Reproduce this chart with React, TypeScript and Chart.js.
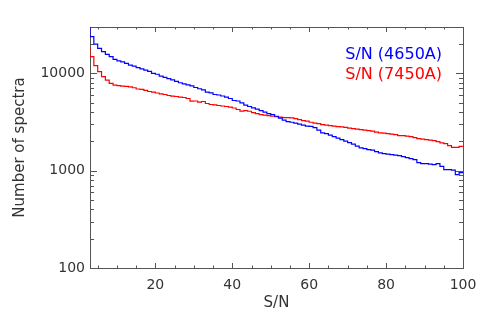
import React, { useEffect, useRef } from 'react';
import { Chart, registerables } from 'chart.js';

Chart.register(...registerables);

// Histogram bins (start of each 1-unit S/N bin)
const binStarts = [
  2, 3, 4, 5, 6, 7, 8, 9, 10, 11, 12, 13, 14, 15, 16, 17, 18, 19, 20, 21,
  22, 23, 24, 25, 26, 27, 28, 29, 30, 31, 32, 33, 34, 35, 36, 37, 38, 39, 40, 41,
  42, 43, 44, 45, 46, 47, 48, 49, 50, 51, 52, 53, 54, 55, 56, 57, 58, 59, 60, 61,
  62, 63, 64, 65, 66, 67, 68, 69, 70, 71, 72, 73, 74, 75, 76, 77, 78, 79, 80, 81,
  82, 83, 84, 85, 86, 87, 88, 89, 90, 91, 92, 93, 94, 95, 96, 97, 98, 99,
];
const binWidth = 1;

const blueCounts = [
  32000, 23900, 20050, 18100, 16740, 15700, 14870, 13940, 13450, 13140,
  12680, 12180, 11890, 11450, 11130, 10810, 10480, 10000, 9810, 9380,
  9100, 8820, 8570, 8270, 8020, 7800, 7610, 7430, 7170, 6960,
  6760, 6420, 6300, 6075, 6000, 5860, 5700, 5525, 5270, 5205,
  4990, 4713, 4570, 4430, 4305, 4155, 4010, 3870, 3780, 3630,
  3476, 3316, 3200, 3147, 3088, 3016, 2945, 2875, 2861, 2775,
  2616, 2447, 2406, 2323, 2241, 2163, 2087, 2015, 1945, 1876,
  1789, 1714, 1686, 1646, 1627, 1570, 1522, 1497, 1479, 1462,
  1445, 1428, 1394, 1361, 1329, 1298, 1209, 1181, 1181, 1167,
  1153, 1181, 1107, 1024, 1024, 1012, 910, 954,
];

const redCounts = [
  18100, 14870, 12010, 10410, 9250, 8530, 7890, 7575, 7485, 7397,
  7345, 7260, 7120, 6920, 6840, 6680, 6520, 6415, 6295, 6175,
  6075, 5932, 5834, 5793, 5698, 5657, 5525, 5181, 5205, 5060,
  5145, 4907, 4792, 4758, 4680, 4624, 4570, 4495, 4410, 4256,
  4106, 4155, 4087, 3963, 3870, 3780, 3734, 3690, 3630, 3604,
  3561, 3519, 3519, 3494, 3436, 3356, 3277, 3238, 3147, 3088,
  3051, 2980, 2945, 2910, 2875, 2841, 2821, 2795, 2742, 2710,
  2677, 2646, 2616, 2585, 2555, 2494, 2447, 2435, 2406, 2378,
  2350, 2295, 2295, 2268, 2241, 2189, 2138, 2113, 2087, 2063,
  2038, 1991, 1931, 1898, 1810, 1739, 1739, 1780,
];

const seriesLabels = ['S/N (4650A)', 'S/N (7450A)'];
const seriesColors = ['rgb(0,0,255)', 'rgb(255,0,0)'];

const xTickLabels = [20, 40, 60, 80, 100];
const xMinorStep = 5;
const yTickLabels = [100, 1000, 10000];
const xRange = [3, 100];
const yRange = [100, 30000];

const axisColor = '#555';
const textColor = '#333';
const FONT = 'DejaVu Sans';

function toSteps(counts: number[]) {
  const pts = binStarts.map((x, i) => ({ x, y: counts[i] }));
  const last = binStarts.length - 1;
  pts.push({ x: binStarts[last] + binWidth, y: counts[last] });
  return pts;
}

const framePlugin = {
  id: 'idlFrame',
  beforeDatasetsDraw(chart: any) {
    const { ctx, chartArea: a, scales } = chart;
    const x = scales.x;
    const y = scales.y;
    ctx.save();
    ctx.strokeStyle = axisColor;
    ctx.lineWidth = 1;
    ctx.strokeRect(a.left + 0.5, a.top + 0.5, a.right - a.left, a.bottom - a.top);
    ctx.beginPath();
    // x ticks (bottom + top, inward)
    for (let v = Math.ceil(xRange[0] / xMinorStep) * xMinorStep; v <= xRange[1]; v += xMinorStep) {
      const major = xTickLabels.includes(v);
      const px = Math.round(x.getPixelForValue(v)) + 0.5;
      const len = major ? 5 : 2.5;
      ctx.moveTo(px, a.bottom);
      ctx.lineTo(px, a.bottom - len);
      ctx.moveTo(px, a.top);
      ctx.lineTo(px, a.top + len);
    }
    // y ticks (left + right, inward)
    for (let k = 2; k <= 4; k++) {
      for (let m = 1; m <= 9; m++) {
        const val = m * Math.pow(10, k);
        if (val < yRange[0] || val > yRange[1]) continue;
        const py = Math.round(y.getPixelForValue(val)) + 0.5;
        const len = m === 1 ? 7 : 4;
        ctx.moveTo(a.left, py);
        ctx.lineTo(a.left + len, py);
        ctx.moveTo(a.right, py);
        ctx.lineTo(a.right - len, py);
      }
    }
    ctx.stroke();
    ctx.restore();
  },
  afterDraw(chart: any) {
    const { ctx, chartArea: a } = chart;
    ctx.save();
    ctx.font = `16px "${FONT}"`;
    ctx.textAlign = 'right';
    ctx.textBaseline = 'alphabetic';
    chart.data.datasets.forEach((ds: any, i: number) => {
      ctx.fillStyle = ds.borderColor;
      ctx.fillText(ds.label, a.right - 21, a.top + 32 + i * 20);
    });
    ctx.restore();
  },
};

export default function App() {
  const ref = useRef<HTMLCanvasElement | null>(null);
  useEffect(() => {
    if (!ref.current) return;
    const chart = new Chart(ref.current, {
      type: 'line',
      data: {
        datasets: [blueCounts, redCounts].map((c, i) => ({
          label: seriesLabels[i],
          data: toSteps(c),
          borderColor: seriesColors[i],
          backgroundColor: seriesColors[i],
          borderWidth: 1.2,
          pointRadius: 0,
          stepped: 'before' as const,
          fill: false,
        })),
      },
      options: {
        animation: false,
        responsive: false,
        events: [],
        layout: { padding: { left: 0, right: 28, top: 27, bottom: 0 } },
        plugins: { legend: { display: false }, tooltip: { enabled: false } },
        scales: {
          x: {
            type: 'linear',
            min: xRange[0],
            max: xRange[1],
            afterBuildTicks: (s: any) => {
              s.ticks = xTickLabels.map((v) => ({ value: v }));
            },
            afterFit: (s: any) => {
              s.height = 58;
            },
            grid: { display: false, drawTicks: false },
            border: { display: false },
            ticks: {
              color: textColor,
              font: { family: FONT, size: 14 },
              padding: 9,
              maxRotation: 0,
              autoSkip: false,
              callback: (v: any) => String(v),
            },
            title: {
              display: true,
              text: 'S/N',
              color: textColor,
              font: { family: FONT, size: 15 },
              padding: { top: 0, bottom: 14 },
            },
          },
          y: {
            type: 'logarithmic',
            min: yRange[0],
            max: yRange[1],
            afterBuildTicks: (s: any) => {
              s.ticks = yTickLabels.map((v) => ({ value: v }));
            },
            afterFit: (s: any) => {
              s.width = 90;
            },
            grid: { display: false, drawTicks: false },
            border: { display: false },
            ticks: {
              color: textColor,
              font: { family: FONT, size: 14 },
              padding: 5,
              autoSkip: false,
              callback: (v: any) => String(v),
            },
            title: {
              display: true,
              text: 'Number of spectra',
              color: textColor,
              font: { family: FONT, size: 15 },
              padding: { top: 11, bottom: 0 },
            },
          },
        },
      },
      plugins: [framePlugin],
    });
    return () => chart.destroy();
  }, []);
  return (
    <div style={{ position: 'absolute', left: 0, top: 0, width: 491, height: 326, background: '#fff' }}>
      <canvas ref={ref} width={491} height={326} style={{ width: 491, height: 326, display: 'block' }} />
    </div>
  );
}
